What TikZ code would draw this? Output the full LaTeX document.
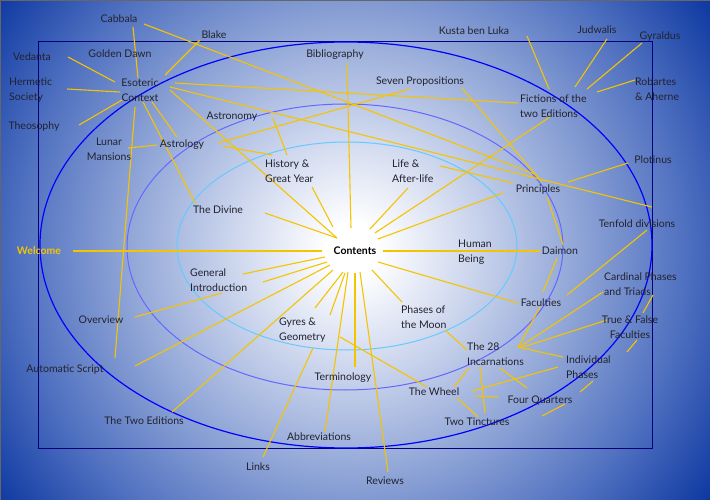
\documentclass[tikz,border=0pt]{standalone}
\usepackage{fontspec}
\setmainfont{Lato}
\definecolor{bgA}{HTML}{D4DCF0}
\definecolor{bgB}{HTML}{93A8D8}
\definecolor{bgC}{HTML}{4F70C0}
\definecolor{bgD}{HTML}{0A36A0}
\definecolor{gold}{HTML}{F5C400}
\definecolor{txt}{HTML}{22222E}
\pgfdeclareradialshading{bgsh}{\pgfpoint{0bp}{0bp}}{color(0bp)=(white); color(1.5bp)=(white); color(6bp)=(bgA); color(12.5bp)=(bgB); color(19bp)=(bgC); color(25bp)=(bgD); color(50bp)=(bgD)}
\begin{document}
\begin{tikzpicture}[x=1pt,y=-1pt,
  ln/.style={gold,line width=1.1pt},
  lb/.style={txt,font=\fontsize{10.5}{15}\selectfont,inner sep=0pt,align=left},
  lbc/.style={lb,align=center}]
\useasboundingbox (0,0) rectangle (710,500);
\begin{scope}
\clip (0,0) rectangle (710,500);
\fill[shading=bgsh] (352,250) circle (440);
\end{scope}
\draw[black!60,line width=0.8pt] (0,0) rectangle (710,500);
\draw[blue!50!black,line width=1pt] (38,42) rectangle (652,448);
\draw[blue,line width=1.2pt] (346,245) ellipse [x radius=306, y radius=203];
\draw[blue!60!white,line width=1pt] (345,247) ellipse [x radius=218, y radius=143];
\draw[blue!35!cyan!60!white,line width=1pt] (347,246) ellipse [x radius=170, y radius=104];
% lines
\foreach \a/\b/\c/\d in {
144/24/537/175, 200/40/165/75, 133/27/138/78, 68/57/115/82, 67/89/120/92, 79/125/122/100,
135/107/115/358, 152/102/177/137, 143/102/195/203, 128/148/157/145, 218/143/410/89,
223/146/272/155, 273/118/287/155, 175/83/518/103, 170/87/652/207, 170/90/337/238,
440/166/513/183, 462/88/542/182, 550/117/375/233, 503/193/378/239, 408/188/370/229,
628/163/568/182, 527/36/549/89, 607/39/575/87, 642/43/587/89, 635/80/597/92,
547/197/563/245, 647/230/567/295, 347/63/351/228, 312/187/333/227, 265/213/337/238,
73/251/322/251, 243/274/325/257, 263/282/327/262, 135/317/222/293, 135/366/330/265,
172/412/333/270, 315/308/343/272, 330/315/345/273, 340/337/427/387, 355/367/355/273,
325/432/348/272, 263/457/313/348, 388/472/360/272, 372/270/402/302, 378/262/518/303,
383/251/540/251, 557/258/543/292, 540/307/518/348, 603/292/518/348, 607/320/520/348,
563/357/522/348, 653/295/643/313, 637/340/627/352, 445/330/467/350, 469/368/454/387,
480/367/485/413, 500/368/527/388, 558/367/472/391, 475/396/498/397, 457/398/478/417,
542/416/565/404, 580/392/593/381}
  \draw[ln] (\a,\b) -- (\c,\d);
% labels
\node[lbc,font=\fontsize{10.5}{15}\selectfont\bfseries,text=black] (contents) at (355,251) {Contents};
\node[lbc,font=\fontsize{10.5}{15}\selectfont\bfseries,text=gold] (welcome) at (39,251) {Welcome};
\node[lbc] (cabbala) at (119,19) {Cabbala};
\node[lbc] (blake) at (214,35) {Blake};
\node[lbc] (golden) at (120,54) {Golden Dawn};
\node[lbc] (vedanta) at (32,57) {Vedanta};
\node[lb,anchor=west] (hermetic) at (9,90) {Hermetic\\Society};
\node[lbc] (theosophy) at (34,127) {Theosophy};
\node[lbc] (esoteric) at (140,90) {Esoteric\\Context};
\node[lbc] (astronomy) at (232,117) {Astronomy};
\node[lbc] (lunar) at (109,149) {Lunar\\Mansions};
\node[lbc] (astrology) at (182,145) {Astrology};
\node[lb,anchor=west] (history) at (265,171) {History \&\\Great Year};
\node[lbc] (divine) at (218,210) {The Divine};
\node[lbc] (biblio) at (335,55) {Bibliography};
\node[lbc] (seven) at (420,82) {Seven Propositions};
\node[lbc] (kusta) at (474,31) {Kusta ben Luka};
\node[lbc] (judwalis) at (597,30) {Judwalis};
\node[lbc] (gyraldus) at (660,37) {Gyraldus};
\node[lb,anchor=west] (robartes) at (635,89) {Robartes\\\& Aherne};
\node[lb,anchor=west] (fictions) at (520,106) {Fictions of the\\two Editions};
\node[lb,anchor=west] (life) at (392,171) {Life \&\\After-life};
\node[lbc] (principles) at (538,190) {Principles};
\node[lbc] (plotinus) at (653,160) {Plotinus};
\node[lbc] (tenfold) at (637,224) {Tenfold divisions};
\node[lb,anchor=west] (human) at (458,252) {Human\\Being};
\node[lbc] (daimon) at (560,251) {Daimon};
\node[lb,anchor=west] (general) at (190,280) {General\\Introduction};
\node[lbc] (overview) at (101,320) {Overview};
\node[lbc] (automatic) at (65,370) {Automatic Script};
\node[lb,anchor=west] (gyres) at (279,330) {Gyres \&\\Geometry};
\node[lbc] (terminology) at (343,378) {Terminology};
\node[lbc] (twoeds) at (144,421) {The Two Editions};
\node[lbc] (abbrev) at (319,437) {Abbreviations};
\node[lbc] (links) at (258,467) {Links};
\node[lbc] (reviews) at (385,481) {Reviews};
\node[lb,anchor=west] (phases) at (401,317) {Phases of\\the Moon};
\node[lb,anchor=west] (incarn) at (467,354) {The 28\\Incarnations};
\node[lbc] (faculties) at (541,303) {Faculties};
\node[lb,anchor=west] (cardinal) at (604,284) {Cardinal Phases\\and Triads};
\node[lbc] (truefalse) at (630,327) {True \& False\\Faculties};
\node[lb,anchor=west] (individual) at (566,367) {Individual\\Phases};
\node[lbc] (wheel) at (434,392) {The Wheel};
\node[lbc] (quarters) at (540,400) {Four Quarters};
\node[lbc] (tinctures) at (477,422) {Two Tinctures};
\end{tikzpicture}
\end{document}
